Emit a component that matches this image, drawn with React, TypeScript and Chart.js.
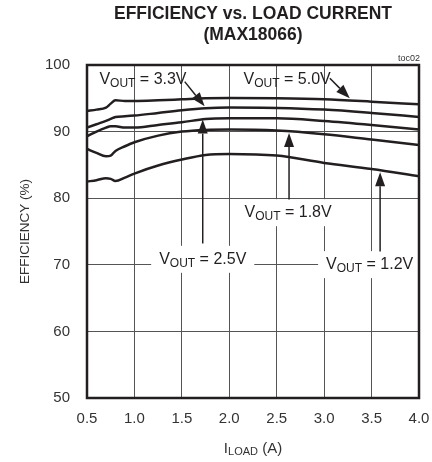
import React, { useEffect, useRef } from 'react';
import { Chart, registerables } from 'chart.js';

Chart.register(...registerables);

// ---- data ----
const loadCurrent = [0.5, 0.6, 0.7, 0.75, 0.8, 0.9, 1.0, 1.25, 1.5, 1.75, 2.0, 2.5, 3.0, 3.5, 4.0];
const eff50 = [93.1, 93.3, 93.6, 94.2, 94.7, 94.6, 94.6, 94.7, 94.85, 95.0, 95.05, 95.0, 94.85, 94.5, 94.1];
const eff33 = [90.6, 91.1, 91.6, 91.9, 92.2, 92.3, 92.4, 92.8, 93.2, 93.5, 93.6, 93.55, 93.3, 92.8, 92.2];
const eff25 = [89.3, 90.0, 90.6, 90.8, 90.8, 90.6, 90.6, 91.0, 91.4, 91.9, 92.0, 92.0, 91.6, 91.0, 90.3];
const eff18 = [87.4, 86.8, 86.3, 86.4, 87.1, 87.8, 88.4, 89.4, 90.0, 90.25, 90.3, 90.15, 89.6, 88.8, 88.0];
const eff12 = [82.5, 82.7, 83.0, 82.9, 82.6, 83.1, 83.7, 84.9, 85.8, 86.5, 86.65, 86.4, 85.3, 84.4, 83.3];
const xTicks = [0.5, 1.0, 1.5, 2.0, 2.5, 3.0, 3.5, 4.0];
const yTicks = [50, 60, 70, 80, 90, 100];

const titleLines = ['EFFICIENCY vs. LOAD CURRENT', '(MAX18066)'];
const seriesLabels = ['5.0V', '3.3V', '2.5V', '1.8V', '1.2V'];

// annotation labels (data coords) and arrows (data coords)
const labelText = ['3.3V', '5.0V', '1.8V', '2.5V', '1.2V'];
const labelX = [1.09, 2.61, 2.62, 1.72, 3.48];
const labelY = [97.9, 97.9, 77.9, 70.9, 70.1];
const labelBoxed = [false, false, true, true, true];
const arrowFromX = [1.53, 3.06, 1.72, 2.63, 3.59];
const arrowFromY = [97.5, 98.0, 73.2, 79.8, 72.0];
const arrowToX = [1.74, 3.27, 1.72, 2.63, 3.59];
const arrowToY = [93.8, 95.0, 91.8, 89.8, 83.9];

const FONT = '"Liberation Sans", Arial, sans-serif';
const INK = '#231f20';

function voutWidth(ctx: CanvasRenderingContext2D, val: string) {
  ctx.font = `16px ${FONT}`;
  const w1 = ctx.measureText('V').width;
  const w3 = ctx.measureText(` = ${val}`).width;
  ctx.font = `12px ${FONT}`;
  const w2 = ctx.measureText('OUT').width;
  return w1 + w2 + w3;
}

function drawVout(ctx: CanvasRenderingContext2D, val: string, cx: number, cy: number) {
  const w = voutWidth(ctx, val);
  let x = cx - w / 2;
  const base = cy + 5;
  ctx.fillStyle = INK;
  ctx.textAlign = 'left';
  ctx.textBaseline = 'alphabetic';
  ctx.font = `16px ${FONT}`;
  ctx.fillText('V', x, base);
  x += ctx.measureText('V').width;
  ctx.font = `12px ${FONT}`;
  ctx.fillText('OUT', x, base + 3);
  x += ctx.measureText('OUT').width;
  ctx.font = `16px ${FONT}`;
  ctx.fillText(` = ${val}`, x, base);
}

function drawArrow(ctx: CanvasRenderingContext2D, x1: number, y1: number, x2: number, y2: number) {
  const ang = Math.atan2(y2 - y1, x2 - x1);
  const hl = 14;
  const hw = 5;
  const bx = x2 - hl * Math.cos(ang);
  const by = y2 - hl * Math.sin(ang);
  ctx.strokeStyle = INK;
  ctx.lineWidth = 1.5;
  ctx.beginPath();
  ctx.moveTo(x1, y1);
  ctx.lineTo(bx, by);
  ctx.stroke();
  ctx.fillStyle = INK;
  ctx.beginPath();
  ctx.moveTo(x2, y2);
  ctx.lineTo(bx + hw * Math.sin(ang), by - hw * Math.cos(ang));
  ctx.lineTo(bx - hw * Math.sin(ang), by + hw * Math.cos(ang));
  ctx.closePath();
  ctx.fill();
}

const decorPlugin = {
  id: 'decor',
  beforeDatasetsDraw(chart: any) {
    const ctx = chart.ctx as CanvasRenderingContext2D;
    const xs = chart.scales.x;
    const ys = chart.scales.y;
    ctx.save();
    for (let i = 0; i < labelText.length; i++) {
      if (!labelBoxed[i]) continue;
      const cx = xs.getPixelForValue(labelX[i]);
      const cy = ys.getPixelForValue(labelY[i]);
      const w = voutWidth(ctx, labelText[i]) + 16;
      ctx.fillStyle = '#ffffff';
      ctx.fillRect(cx - w / 2, cy - 13, w, 27);
    }
    ctx.restore();
  },
  afterDatasetsDraw(chart: any) {
    const ctx = chart.ctx as CanvasRenderingContext2D;
    const xs = chart.scales.x;
    const ys = chart.scales.y;
    const a = chart.chartArea;
    ctx.save();
    // frame
    ctx.strokeStyle = INK;
    ctx.lineWidth = 2.5;
    ctx.strokeRect(a.left, a.top, a.right - a.left, a.bottom - a.top);

    // labels
    for (let i = 0; i < labelText.length; i++) {
      drawVout(ctx, labelText[i], xs.getPixelForValue(labelX[i]), ys.getPixelForValue(labelY[i]));
    }
    // arrows
    for (let i = 0; i < arrowFromX.length; i++) {
      drawArrow(
        ctx,
        xs.getPixelForValue(arrowFromX[i]),
        ys.getPixelForValue(arrowFromY[i]),
        xs.getPixelForValue(arrowToX[i]),
        ys.getPixelForValue(arrowToY[i])
      );
    }

    // title
    const cx = (a.left + a.right) / 2;
    ctx.fillStyle = INK;
    ctx.textAlign = 'center';
    ctx.textBaseline = 'middle';
    ctx.font = `bold 17.5px ${FONT}`;
    ctx.fillText(titleLines[0], cx, 14);
    ctx.fillText(titleLines[1], cx, 35);

    // toc02
    ctx.font = `9px ${FONT}`;
    ctx.textAlign = 'right';
    ctx.fillStyle = '#333';
    ctx.fillText('toc02', a.right + 1, 59);

    // x-axis title I_LOAD (A)
    ctx.fillStyle = '#333';
    ctx.textBaseline = 'alphabetic';
    ctx.textAlign = 'left';
    ctx.font = `15px ${FONT}`;
    const wI = ctx.measureText('I').width;
    const wA = ctx.measureText(' (A)').width;
    ctx.font = `11px ${FONT}`;
    const wL = ctx.measureText('LOAD').width;
    let x = cx - (wI + wL + wA) / 2;
    const base = 453;
    ctx.font = `15px ${FONT}`;
    ctx.fillText('I', x, base);
    x += wI;
    ctx.font = `11px ${FONT}`;
    ctx.fillText('LOAD', x, base + 2);
    x += wL;
    ctx.font = `15px ${FONT}`;
    ctx.fillText(' (A)', x, base);

    // y-axis title
    ctx.save();
    ctx.translate(25, (a.top + a.bottom) / 2);
    ctx.rotate(-Math.PI / 2);
    ctx.textAlign = 'center';
    ctx.textBaseline = 'middle';
    ctx.font = `13.5px ${FONT}`;
    ctx.fillText('EFFICIENCY (%)', 0, 0);
    ctx.restore();

    ctx.restore();
  },
};

export default function App() {
  const canvasRef = useRef<HTMLCanvasElement | null>(null);

  useEffect(() => {
    if (!canvasRef.current) return;
    const series = [eff50, eff33, eff25, eff18, eff12];
    const chart = new Chart(canvasRef.current, {
      type: 'line',
      data: {
        datasets: series.map((s, i) => ({
          label: seriesLabels[i],
          data: s.map((v, j) => ({ x: loadCurrent[j], y: v })),
          borderColor: INK,
          borderWidth: 2.5,
          pointRadius: 0,
          fill: false,
          cubicInterpolationMode: 'monotone' as const,
        })),
      },
      options: {
        responsive: false,
        maintainAspectRatio: false,
        animation: false,
        events: [],
        layout: { padding: { top: 65, right: 13, left: 0, bottom: 0 } },
        plugins: {
          legend: { display: false },
          title: { display: false },
          tooltip: { enabled: false },
        },
        scales: {
          x: {
            type: 'linear',
            min: 0.5,
            max: 4.0,
            afterBuildTicks: (s: any) => {
              s.ticks = xTicks.map((v) => ({ value: v }));
            },
            afterFit: (s: any) => {
              s.height = 64;
              s.paddingLeft = 0;
              s.paddingRight = 0;
            },
            ticks: {
              callback: (v: any) => Number(v).toFixed(1),
              font: { family: FONT, size: 15 },
              color: '#333',
              padding: 12,
              maxRotation: 0,
            },
            grid: { color: '#555', lineWidth: 1, drawTicks: false },
            border: { display: false },
          },
          y: {
            type: 'linear',
            min: 50,
            max: 100,
            afterBuildTicks: (s: any) => {
              s.ticks = yTicks.map((v) => ({ value: v }));
            },
            afterFit: (s: any) => {
              s.width = 87;
              s.paddingTop = 0;
              s.paddingBottom = 0;
            },
            ticks: {
              font: { family: FONT, size: 15 },
              color: '#333',
              padding: 17,
            },
            grid: { color: '#555', lineWidth: 1, drawTicks: false },
            border: { display: false },
          },
        },
      },
      plugins: [decorPlugin],
    });
    return () => chart.destroy();
  }, []);

  return (
    <div style={{ position: 'absolute', left: 0, top: 0, width: 432, height: 462, background: '#fff' }}>
      <canvas ref={canvasRef} width={432} height={462} style={{ width: 432, height: 462, display: 'block' }} />
    </div>
  );
}
